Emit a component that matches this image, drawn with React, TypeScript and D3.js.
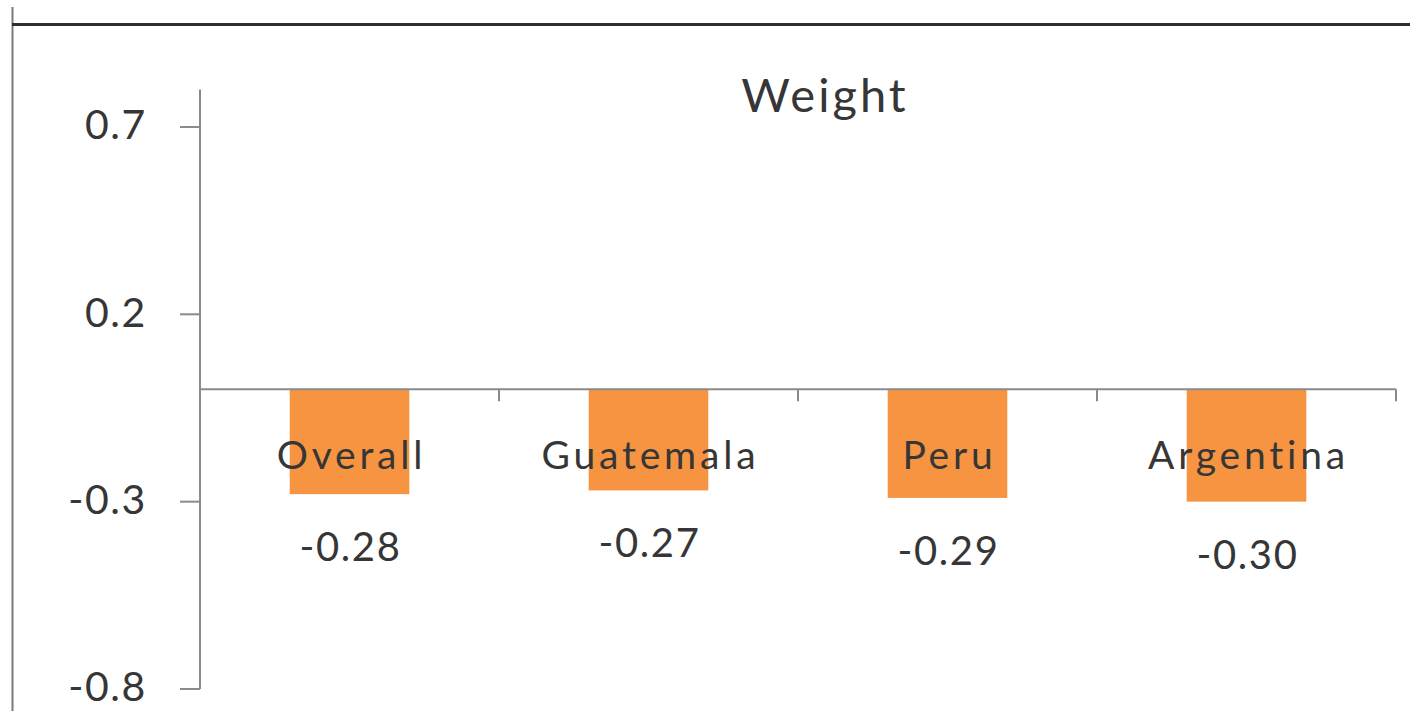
import React from "react";
import * as d3 from "d3";

// Weight coefficients by group
const categories: string[] = ["Overall", "Guatemala", "Peru", "Argentina"];
const values: number[] = [-0.28, -0.27, -0.29, -0.3];
const valueLabels: string[] = ["-0.28", "-0.27", "-0.29", "-0.30"];
const yTicks: number[] = [-0.8, -0.3, 0.2, 0.7];
const yTickLabels: string[] = ["-0.8", "-0.3", "0.2", "0.7"];
const chartTitle = "Weight";

const W = 1410;
const H = 711;
const FONT = "Lato, 'Open Sans', sans-serif";
const TEXT = "#363636";
const AXIS = "#8a8a8a";
const BAR = "#F79442";

export default function App() {
  const x = d3
    .scaleBand<string>()
    .domain(categories)
    .range([200, 1396])
    .paddingInner(0.6)
    .paddingOuter(0.3);
  const y = d3.scaleLinear().domain([-0.8, 0.8]).range([689, 89.5]);
  const step = x.step();
  const x0 = x.range()[0];
  const y0 = y(0);
  const boundaries = d3.range(1, categories.length + 1).map((i) => x0 + i * step);

  return (
    <svg
      width={W}
      height={H}
      style={{ position: "absolute", left: 0, top: 0, display: "block", background: "#fff" }}
    >
      {/* frame */}
      <line x1={12.5} x2={12.5} y1={7} y2={H} stroke="#7a7a7a" strokeWidth={2} />
      <line x1={12} x2={W} y1={24.5} y2={24.5} stroke="#2e2e2e" strokeWidth={3} />

      {/* title */}
      <text
        x={825}
        y={112}
        textAnchor="middle"
        fontFamily={FONT}
        fontSize={47}
        letterSpacing={3}
        fill={TEXT}
      >
        {chartTitle}
      </text>

      {/* bars */}
      {categories.map((c, i) => (
        <rect
          key={c}
          x={x(c)}
          y={Math.min(y0, y(values[i]))}
          width={x.bandwidth()}
          height={Math.abs(y(values[i]) - y0)}
          fill={BAR}
        />
      ))}

      {/* value axis */}
      <line x1={200} x2={200} y1={y(0.8)} y2={y(-0.8)} stroke={AXIS} strokeWidth={2} />
      {yTicks.map((t, i) => (
        <g key={t}>
          <line x1={180} x2={200} y1={y(t)} y2={y(t)} stroke={AXIS} strokeWidth={2} />
          <text
            x={147}
            y={y(t)}
            dy="0.3em"
            textAnchor="end"
            fontFamily={FONT}
            fontSize={41}
            letterSpacing={1.6}
            fill={TEXT}
          >
            {yTickLabels[i]}
          </text>
        </g>
      ))}

      {/* category axis */}
      <line x1={200} x2={x.range()[1]} y1={y0} y2={y0} stroke={AXIS} strokeWidth={2} />
      {boundaries.map((bx) => (
        <line key={bx} x1={bx} x2={bx} y1={y0} y2={y0 + 12} stroke={AXIS} strokeWidth={2} />
      ))}
      {categories.map((c) => (
        <text
          key={c}
          x={(x(c) as number) + x.bandwidth() / 2 + 2}
          y={469}
          textAnchor="middle"
          fontFamily={FONT}
          fontSize={39}
          letterSpacing={3.8}
          fill={TEXT}
        >
          {c}
        </text>
      ))}

      {/* data labels */}
      {categories.map((c, i) => (
        <text
          key={c}
          x={(x(c) as number) + x.bandwidth() / 2 + 1}
          y={y(values[i]) + 67}
          textAnchor="middle"
          fontFamily={FONT}
          fontSize={40}
          letterSpacing={1.6}
          fill={TEXT}
        >
          {valueLabels[i]}
        </text>
      ))}
    </svg>
  );
}
